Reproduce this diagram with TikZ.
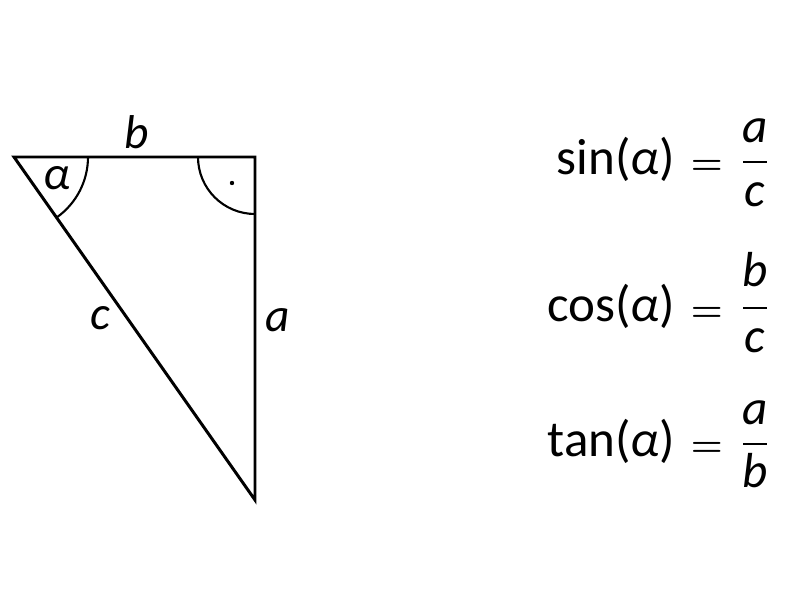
\documentclass[tikz,border=0pt]{standalone}
\usepackage{fontspec}
\setmainfont{Carlito}
\usetikzlibrary{positioning,calc}
\newcommand{\releq}{\hspace{9pt}{\fontsize{22}{26}\selectfont\boldmath$=$}}
\begin{document}
\begin{tikzpicture}[x=0.2mm,y=-0.2mm,every node/.style={inner sep=0pt}]
\tikzstyle{side}=[draw,line width=1.7pt,line join=miter]
\tikzstyle{angarc}=[draw,line width=1.2pt]
\tikzstyle{lbl}=[font=\fontsize{27}{32}\selectfont\itshape]
\tikzstyle{eq}=[font=\fontsize{29}{34}\selectfont,anchor=base east]
\tikzstyle{frac}=[font=\fontsize{28}{34}\selectfont\itshape,anchor=base]
\tikzstyle{bar}=[draw,line width=1.7pt]
\useasboundingbox (0,0) rectangle (800,600);
% triangle
\coordinate (A) at (14,157);
\coordinate (C) at (255,157);
\coordinate (B) at (255,500);
\path[side] (A)--(C)--(B)--cycle;
\path[angarc] ($(A)+(74,0)$) arc[start angle=0,end angle=54.9,radius=74];
\path[angarc] ($(C)+(-57,0)$) arc[start angle=180,end angle=90,radius=57];
\fill (232,183) circle[radius=2.2];
\node[lbl](alpha) at (57,178){α};
\node[lbl](lb) at (137,132){b};
\node[lbl](lc) at (100,318){c};
\node[lbl](la) at (278,320){a};
% sin
\node[eq](sin) at (723,175){sin(\textit{α})\releq};
\node[frac](sinn) at (755,143){a};
\node[frac](sind) at (755,207){c};
\path[bar] (743,162)--(767,162);
% cos
\node[eq](cos) at (723,322){cos(\textit{α})\releq};
\node[frac](cosn) at (755,287){b};
\node[frac](cosd) at (755,353){c};
\path[bar] (743,308)--(767,308);
% tan
\node[eq](tan) at (723,457){tan(\textit{α})\releq};
\node[frac](tann) at (755,425){a};
\node[frac](tand) at (755,488){b};
\path[bar] (743,444)--(767,444);
\end{tikzpicture}
\end{document}
